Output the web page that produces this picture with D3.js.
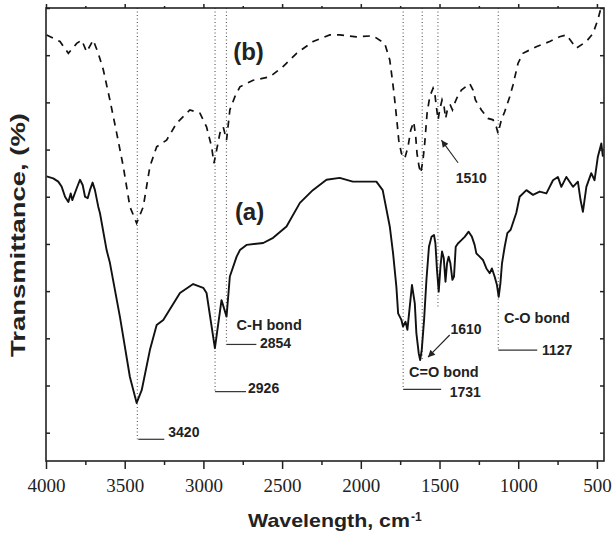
<!DOCTYPE html>
<html>
<head>
<meta charset="utf-8">
<script src="https://cdn.jsdelivr.net/npm/d3@7"></script>
<style>
  body { margin: 0; background: #ffffff; }
  .lbl { font-family: 'Liberation Sans', Arial, sans-serif; font-weight: bold; fill: #222; }
  .ticks text { font-family: 'Liberation Serif', 'Times New Roman', serif; font-size: 19px; fill: #222; }
</style>
</head>
<body>
<div id="graf"></div>
<script>
// spectrum (a): [wavenumber cm-1, transmittance units]
const curveA = [
  [3996, 54.3], [3954, 53.9], [3922, 53.2], [3900, 52.1], [3879, 50.0], [3858, 48.9],
  [3843, 50.7], [3833, 49.3], [3805, 51.8], [3784, 53.6], [3767, 52.5], [3752, 50.0],
  [3735, 49.7], [3721, 51.4], [3704, 53.0], [3689, 51.4], [3668, 47.9], [3657, 46.5],
  [3615, 38.7], [3594, 36.0], [3530, 24.5], [3467, 11.8], [3424, 6.3], [3392, 9.0],
  [3340, 17.5], [3297, 22.8], [3255, 23.9], [3149, 29.6], [3065, 31.5], [3001, 30.7],
  [2980, 29.6], [2927, 17.9], [2885, 28.1], [2853, 24.6], [2832, 33.1], [2789, 37.3],
  [2768, 38.7], [2726, 39.8], [2620, 40.2], [2557, 41.3], [2472, 43.7], [2387, 48.7],
  [2305, 51.4], [2218, 53.6], [2134, 54.0], [2051, 53.2], [1901, 53.2], [1861, 51.4],
  [1816, 43.7], [1795, 38.0], [1774, 30.9], [1763, 25.3], [1742, 23.9], [1732, 22.5],
  [1716, 23.5], [1704, 21.8], [1689, 26.7], [1675, 31.3], [1657, 27.4], [1647, 21.1],
  [1632, 16.8], [1623, 15.4], [1613, 17.5], [1598, 23.9], [1583, 32.4], [1567, 39.4],
  [1551, 41.5], [1535, 41.9], [1526, 40.1], [1516, 34.5], [1505, 29.9], [1494, 35.2],
  [1484, 38.4], [1473, 37.0], [1462, 32.0], [1452, 35.9], [1442, 37.3], [1431, 35.9],
  [1418, 32.4], [1408, 33.1], [1397, 39.4], [1383, 40.1], [1361, 40.8], [1340, 41.5],
  [1315, 42.6], [1294, 41.5], [1277, 39.8], [1266, 38.0], [1245, 37.3], [1224, 36.6],
  [1202, 34.8], [1181, 33.8], [1167, 34.8], [1150, 33.1], [1135, 31.3], [1124, 28.8],
  [1113, 31.7], [1103, 35.9], [1086, 39.4], [1069, 42.3], [1048, 43.0], [1012, 46.6],
  [991, 50.0], [948, 51.4], [906, 50.4], [864, 51.1], [821, 50.7], [779, 53.5],
  [748, 54.2], [726, 52.1], [694, 54.2], [652, 52.1], [621, 53.2], [604, 49.3],
  [589, 46.8], [567, 52.1], [536, 55.0], [515, 53.5], [494, 58.5], [472, 61.3], [462, 58.5]
]

// spectrum (b), dashed
const curveB = [
  [3996, 84.3], [3911, 82.9], [3858, 80.4], [3805, 82.5], [3773, 83.2], [3742, 80.7],
  [3700, 83.2], [3668, 80.4], [3636, 76.9], [3594, 70.5], [3551, 63.5], [3509, 56.4],
  [3467, 47.9], [3424, 44.4], [3382, 47.9], [3340, 56.4], [3297, 60.6], [3234, 62.0],
  [3170, 65.6], [3086, 68.4], [3022, 67.7], [2980, 64.8], [2948, 60.6], [2933, 57.1],
  [2916, 59.9], [2895, 63.5], [2874, 64.8], [2853, 62.0], [2832, 68.4], [2800, 71.2],
  [2768, 73.3], [2684, 74.7], [2578, 75.4], [2494, 77.6], [2408, 80.4], [2303, 82.9],
  [2197, 84.3], [2134, 84.3], [2028, 83.9], [1922, 84.1], [1848, 82.5], [1816, 79.0],
  [1802, 75.4], [1789, 71.9], [1778, 68.4], [1767, 64.8], [1759, 62.0], [1742, 59.2],
  [1721, 58.1], [1700, 60.6], [1683, 64.1], [1664, 65.9], [1651, 62.7], [1643, 59.2],
  [1630, 56.4], [1619, 55.0], [1605, 57.8], [1594, 61.3], [1579, 67.7], [1562, 71.2],
  [1541, 73.0], [1530, 71.9], [1520, 69.1], [1509, 66.3], [1499, 68.4], [1484, 70.5],
  [1471, 69.1], [1461, 66.6], [1446, 69.1], [1431, 69.4], [1418, 68.4], [1404, 69.8],
  [1386, 71.2], [1361, 72.6], [1308, 74.0], [1287, 72.6], [1272, 70.5], [1234, 68.4],
  [1192, 66.6], [1160, 66.3], [1139, 64.8], [1128, 63.4], [1118, 64.8], [1107, 66.3],
  [1086, 68.0], [1054, 71.2], [1033, 73.7], [1001, 78.3], [970, 80.4], [885, 81.8],
  [800, 82.9], [737, 83.9], [694, 84.3], [631, 81.5], [567, 82.9], [525, 84.6],
  [494, 87.5], [472, 90.3], [462, 92.0]
]

const xTicks = [4000, 3500, 3000, 2500, 2000, 1500, 1000, 500]
const xMinor = [3750, 3250, 2750, 2250, 1750, 1250, 750]
const yTicks = [0, 10, 20, 30, 40, 50, 60, 70, 80, 90]

const peaks = [3420, 2926, 2854, 1731, 1610, 1510, 1127]
const peakDepth = [-1.4, 8.7, 18.7, 9.2, 15.4, 26.4, 17.5]

const seriesNames = ['(a)', '(b)']
const seriesPos = [[2800, 45.1], [2811, 79.0]]

const bondNames = ['C-H bond', 'C=O bond', 'C-O bond']
const bondPeaks = [2854, 1731, 1127]
const bondV = [21.8, 11.7, 23.2]

const xTitle = 'Wavelength, cm'
const yTitle = 'Transmittance, (%)'

const anchoTotal = 614
const altoTotal = 536
const margin = { top: 8, bottom: 75, left: 46, right: 10 }
const ancho = anchoTotal - margin.left - margin.right
const alto = altoTotal - margin.top - margin.bottom

const svg = d3.select('#graf')
  .append('svg')
  .attr('width', anchoTotal)
  .attr('height', altoTotal)

const g = svg.append('g')
  .attr('transform', `translate(${margin.left}, ${margin.top})`)

const x = d3.scaleLinear().domain([4000, 455]).range([0, ancho])
const y = d3.scaleLinear().domain([-6, 90]).range([alto, 0])

g.append('clipPath').attr('id', 'recorte')
  .append('rect').attr('width', ancho).attr('height', alto)

// dotted guides at the peaks
g.append('g')
  .selectAll('line')
  .data(peaks)
  .enter()
  .append('line')
  .attr('x1', (d) => x(d))
  .attr('x2', (d) => x(d))
  .attr('y1', 0)
  .attr('y2', (d, i) => y(peakDepth[i]))
  .attr('stroke', '#444')
  .attr('stroke-width', 1)
  .attr('stroke-dasharray', '1,2.5')

const linea = d3.line().x((d) => x(d[0])).y((d) => y(d[1]))

g.append('path')
  .datum(curveA)
  .attr('clip-path', 'url(#recorte)')
  .attr('d', linea)
  .attr('fill', 'none')
  .attr('stroke', '#111')
  .attr('stroke-width', 1.9)
  .attr('stroke-linejoin', 'round')

g.append('path')
  .datum(curveB)
  .attr('clip-path', 'url(#recorte)')
  .attr('d', linea)
  .attr('fill', 'none')
  .attr('stroke', '#111')
  .attr('stroke-width', 1.7)
  .attr('stroke-dasharray', '7,6')

// axes
function ejes(axis, cls, transform) {
  const a = g.append('g').attr('class', cls).attr('transform', transform).call(axis)
  a.select('.domain').remove()
  a.selectAll('line').attr('stroke', '#222').attr('stroke-width', 1.5)
  return a
}
ejes(d3.axisBottom(x).tickValues(xTicks).tickSize(8).tickPadding(10).tickFormat(d3.format('d')), 'ticks', `translate(0, ${alto})`)
ejes(d3.axisBottom(x).tickValues(xMinor).tickSize(4).tickFormat(''), 'minor', `translate(0, ${alto})`)
ejes(d3.axisTop(x).tickValues(xTicks).tickSize(4).tickFormat(''), 'minor', 'translate(0, 0)')
ejes(d3.axisTop(x).tickValues(xMinor).tickSize(2).tickFormat(''), 'minor', 'translate(0, 0)')
ejes(d3.axisLeft(y).tickValues(yTicks).tickSize(-4).tickFormat(''), 'minor', 'translate(0, 0)')
ejes(d3.axisRight(y).tickValues(yTicks).tickSize(-4).tickFormat(''), 'minor', `translate(${ancho}, 0)`)

g.append('rect')
  .attr('width', ancho)
  .attr('height', alto)
  .attr('fill', 'none')
  .attr('stroke', '#222')
  .attr('stroke-width', 1.6)

// peak labels with short leader lines
const notas = [
  { peak: 3420, from: 1, to: 27, dx: 31, v: -0.85 },
  { peak: 2926, from: 0, to: 31, dx: 33, v: 8.35 },
  { peak: 2854, from: 0, to: 30, dx: 33.5, v: 17.9 },
  { peak: 1731, from: 0, to: 38, dx: 46.6, v: 7.6 },
  { peak: 1127, from: 0, to: 39, dx: 43.7, v: 16.5 }
]
notas.forEach((n) => {
  const i = peaks.indexOf(n.peak)
  g.append('line')
    .attr('x1', x(n.peak) + n.from)
    .attr('x2', x(n.peak) + n.to)
    .attr('y1', y(peakDepth[i]))
    .attr('y2', y(peakDepth[i]))
    .attr('stroke', '#333')
    .attr('stroke-width', 1.2)
  g.append('text')
    .attr('class', 'lbl')
    .attr('x', x(n.peak) + n.dx)
    .attr('y', y(n.v))
    .attr('font-size', 14)
    .text(n.peak)
})

// arrow labels
svg.append('defs').append('marker')
  .attr('id', 'flecha')
  .attr('viewBox', '0 0 10 10')
  .attr('refX', 10).attr('refY', 5)
  .attr('markerWidth', 9).attr('markerHeight', 7)
  .attr('markerUnits', 'userSpaceOnUse')
  .attr('orient', 'auto')
  .append('path').attr('d', 'M0,0 L10,5 L0,10 z').attr('fill', '#222')

const flechas = [
  { peak: 1610, tipDx: 5.8, tipV: 16.0, tailDx: 27.5, tailV: 20.7, textDx: 28.2, textV: 20.85 },
  { peak: 1510, tipDx: 3.5, tipV: 62.0, tailDx: 20.1, tailV: 57.2, textDx: 17.8, textV: 52.85 }
]
flechas.forEach((f) => {
  g.append('line')
    .attr('x1', x(f.peak) + f.tailDx)
    .attr('y1', y(f.tailV))
    .attr('x2', x(f.peak) + f.tipDx)
    .attr('y2', y(f.tipV))
    .attr('stroke', '#222')
    .attr('stroke-width', 1.1)
    .attr('marker-end', 'url(#flecha)')
  g.append('text')
    .attr('class', 'lbl')
    .attr('x', x(f.peak) + f.textDx)
    .attr('y', y(f.textV))
    .attr('font-size', 14)
    .text(f.peak)
})

// bond names
const bondDx = [10.2, 5.9, 5.7]
bondNames.forEach((b, i) => {
  g.append('text')
    .attr('class', 'lbl')
    .attr('x', x(bondPeaks[i]) + bondDx[i])
    .attr('y', y(bondV[i]))
    .attr('font-size', 14.5)
    .text(b)
})

// (a) (b)
seriesNames.forEach((s, i) => {
  g.append('text')
    .attr('class', 'lbl')
    .attr('x', x(seriesPos[i][0]))
    .attr('y', y(seriesPos[i][1]))
    .attr('font-size', 24)
    .text(s)
})

// axis titles
svg.append('text')
  .attr('class', 'lbl')
  .attr('x', 248)
  .attr('y', 527)
  .attr('font-size', 19)
  .attr('textLength', 162)
  .attr('lengthAdjust', 'spacingAndGlyphs')
  .text(xTitle)

svg.append('text')
  .attr('class', 'lbl')
  .attr('x', 411)
  .attr('y', 521)
  .attr('font-size', 12)
  .text('-1')

svg.append('text')
  .attr('class', 'lbl')
  .attr('transform', 'translate(25, 235) rotate(-90)')
  .attr('text-anchor', 'middle')
  .attr('font-size', 20)
  .attr('textLength', 244)
  .attr('lengthAdjust', 'spacingAndGlyphs')
  .text(yTitle)
</script>
</body>
</html>
